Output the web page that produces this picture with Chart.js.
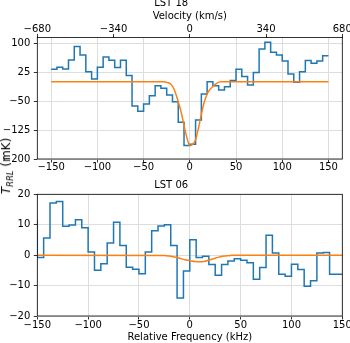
<!DOCTYPE html>
<html>
<head>
<meta charset="utf-8">
<script src="https://cdn.jsdelivr.net/npm/chart.js@4.4.0/dist/chart.umd.min.js"></script>
<style>
  body { margin: 0; background: #fff; width: 350px; height: 343px; overflow: hidden; position: relative; }
  canvas { position: absolute; left: 0; }
  #c18 { top: -3px; }
  #c06 { top: 176px; }
  #ylab {
    position: absolute; left: 6.5px; top: 165.5px;
    transform: translate(-50%, -50%) rotate(-90deg);
    font: 12px "DejaVu Sans"; white-space: nowrap; line-height: 1; color: #000;
  }
  #ylab sub { font-size: 8.4px; vertical-align: -2.5px; }
</style>
</head>
<body>
<canvas id="c18" width="350" height="181"></canvas>
<canvas id="c06" width="350" height="167"></canvas>
<div id="ylab"><i>T</i><sub><i>RRL</i></sub> (mK)</div>
<script>
// channel edges (kHz), 6.25 kHz channels
const edges = [-150, -143.75, -137.5, -131.25, -125, -118.75, -112.5, -106.25, -100,
  -93.75, -87.5, -81.25, -75, -68.75, -62.5, -56.25, -50, -43.75, -37.5, -31.25, -25,
  -18.75, -12.5, -6.25, 0, 6.25, 12.5, 18.75, 25, 31.25, 37.5, 43.75, 50, 56.25, 62.5,
  68.75, 75, 81.25, 87.5, 93.75, 100, 106.25, 112.5, 118.75, 125, 131.25, 137.5, 143.75, 150];

// LST 18 spectrum (mK), one value per channel
const lst18 = [32.6, 37.8, 33.4, 56.8, 91.4, 69.7, 26.5, 7.5, 37.8, 64.6, 55.9, 36.9,
  55.9, 16.2, -62.5, -76.3, -57.7, -35.7, -9.8, -16.7, -34.0, -51.3, -104.8, -165.3,
  -161.9, -98.8, -31.4, 0.6, -9.8, -21.0, -12.4, 3.2, 32.6, 13.6, -8.0, 24.0, 85.3,
  102.6, 76.7, 69.7, 54.2, 20.5, -1.1, 26.5, 55.1, 48.1, 54.2, 68.0];

// LST 06 spectrum (mK); the first channel sits just left of -150
const preEdge06 = -156.25;
const preVal06 = 11.5;
const lst06 = [-0.8, 5.6, 17.1, 17.6, 9.5, 9.9, 11.6, 9.0, 1.0, -5.0, -2.8, 4.0, 10.8,
  3.2, -4.0, -4.6, -6.1, 1.0, 8.0, 9.6, 10.0, 3.2, -14.1, -5.2, 5.1, -0.8, -0.4, -3.1,
  -6.6, -3.1, -1.9, -1.2, -1.7, -2.5, -7.9, -4.1, 6.5, 0.7, -6.3, -6.9, -3.0, -4.7,
  -10.2, -8.4, 0.7, 0.9, -6.3, -6.3];

// fitted models
const modelFreq18 = [-150, -28, -24, -21, -18, -15, -12, -9, -6, -3, 0, 3, 6, 9, 12, 15, 18, 21, 25, 29, 34, 150];
const model18 = [0, 0, -2, -5, -14, -32, -56, -82, -116, -146, -165, -162, -152, -124, -90, -58, -36, -22, -12, -4, 0, 0];
const modelFreq06 = [-150, -25, -20, -15, -10, -5, 0, 5, 10, 15, 20, 25, 30, 35, 40, 45, 150];
const model06 = [0, -0.1, -0.3, -0.6, -1.0, -1.5, -1.8, -2.1, -2.2, -2.0, -1.5, -1.0, -0.5, -0.25, -0.1, 0, 0];

// ticks
const freqTicks = [-150, -100, -50, 0, 50, 100, 150];
const velTicks = [-680, -340, 0, 340, 680];
const yTicks18 = [100, 25, -50, -125, -200];
const yTicks06 = [20, 10, 0, -10, -20];

Chart.defaults.font.family = 'DejaVu Sans';
Chart.defaults.font.size = 10;
Chart.defaults.color = '#000';

const BLUE = '#1f77b4', ORANGE = '#ff7f0e';
const gridColor = '#dddddd';
const fmt = v => String(v).replace('-', '\u2212');
const setTicks = list => s => { s.ticks = list.map(v => ({ value: v })); };

function steps(xs, ys) {
  // each point holds the value of the channel that starts at it
  return xs.map((x, i) => ({ x: x, y: ys[Math.min(i, ys.length - 1)] }));
}
function pts(xs, ys) {
  return xs.map((x, i) => ({ x: x, y: ys[i] }));
}

const framePlugin = {
  id: 'frame',
  afterDatasetsDraw(chart) {
    const a = chart.chartArea, ctx = chart.ctx;
    ctx.save();
    ctx.strokeStyle = '#000';
    ctx.lineWidth = 0.8;
    ctx.strokeRect(a.left, a.top, a.right - a.left, a.bottom - a.top);
    ctx.restore();
  }
};

function tickFont() { return { size: 10, lineHeight: 1 }; }
function gridOpts(onArea) {
  return { color: gridColor, lineWidth: 1, drawOnChartArea: onArea, tickLength: 3.5, tickColor: '#000', tickWidth: 0.8 };
}

// ---- LST 18 ----
new Chart(document.getElementById('c18'), {
  type: 'line',
  data: {
    datasets: [
      { data: pts(modelFreq18, model18), borderColor: ORANGE, borderWidth: 1.5, pointRadius: 0, cubicInterpolationMode: 'monotone' },
      { data: steps(edges, lst18), borderColor: BLUE, borderWidth: 1.5, pointRadius: 0, stepped: 'before' }
    ]
  },
  options: {
    responsive: false, animation: false, devicePixelRatio: 1,
    layout: { padding: { left: 0, right: 7.7, top: 0, bottom: 0 } },
    plugins: {
      legend: { display: false }, tooltip: { enabled: false },
      title: { display: true, text: 'LST 18', font: { size: 10, weight: 'normal', lineHeight: 1.3 }, padding: 0, color: '#000' }
    },
    scales: {
      x: {
        type: 'linear', position: 'bottom', min: -165, max: 165,
        afterBuildTicks: setTicks(freqTicks),
        afterFit: s => { s.height = 19; s.paddingLeft = 0; s.paddingRight = 0; },
        ticks: { autoSkip: false, maxRotation: 0, padding: 0, font: tickFont(), callback: fmt },
        grid: gridOpts(true), border: { display: false }
      },
      x2: {
        type: 'linear', position: 'top', min: -680, max: 680,
        afterBuildTicks: setTicks(velTicks),
        afterFit: s => { s.height = 27.5; s.paddingLeft = 0; s.paddingRight = 0; },
        ticks: { autoSkip: false, maxRotation: 0, padding: 0, font: tickFont(), callback: fmt },
        title: { display: true, text: 'Velocity (km/s)', font: { size: 10, lineHeight: 1.2 }, padding: { top: 0.5, bottom: 0 } },
        grid: gridOpts(false), border: { display: false }
      },
      y: {
        min: -200, max: 115,
        afterBuildTicks: setTicks(yTicks18),
        afterFit: s => { s.width = 37.3; s.paddingTop = 0; s.paddingBottom = 0; },
        ticks: { padding: 3.5, font: tickFont(), callback: fmt },
        grid: gridOpts(true), border: { display: false }
      }
    }
  },
  plugins: [framePlugin]
});

// ---- LST 06 ----
new Chart(document.getElementById('c06'), {
  type: 'line',
  data: {
    datasets: [
      { data: pts(modelFreq06, model06), borderColor: ORANGE, borderWidth: 1.5, pointRadius: 0, cubicInterpolationMode: 'monotone' },
      { data: steps([preEdge06].concat(edges), [preVal06].concat(lst06)), borderColor: BLUE, borderWidth: 1.5, pointRadius: 0, stepped: 'before' }
    ]
  },
  options: {
    responsive: false, animation: false, devicePixelRatio: 1,
    layout: { padding: { left: 0, right: 7.7, top: 0, bottom: 0 } },
    plugins: {
      legend: { display: false }, tooltip: { enabled: false },
      title: { display: true, text: 'LST 06', font: { size: 10, weight: 'normal', lineHeight: 1.2 }, padding: { top: 3.7, bottom: 2.6 }, color: '#000' }
    },
    scales: {
      x: {
        type: 'linear', position: 'bottom', min: -150, max: 150,
        afterBuildTicks: setTicks(freqTicks),
        afterFit: s => { s.height = 27; s.paddingLeft = 0; s.paddingRight = 0; },
        ticks: { autoSkip: false, maxRotation: 0, padding: 0.5, font: tickFont(), callback: fmt },
        title: { display: true, text: 'Relative Frequency (kHz)', font: { size: 10, lineHeight: 1 }, padding: { top: 0, bottom: 0.3 } },
        grid: gridOpts(true), border: { display: false }
      },
      y: {
        min: -20, max: 20,
        afterBuildTicks: setTicks(yTicks06),
        afterFit: s => { s.width = 37.3; s.paddingTop = 0; s.paddingBottom = 0; },
        ticks: { padding: 3.5, font: tickFont(), callback: fmt },
        grid: gridOpts(true), border: { display: false }
      }
    }
  },
  plugins: [framePlugin]
});
</script>
</body>
</html>
